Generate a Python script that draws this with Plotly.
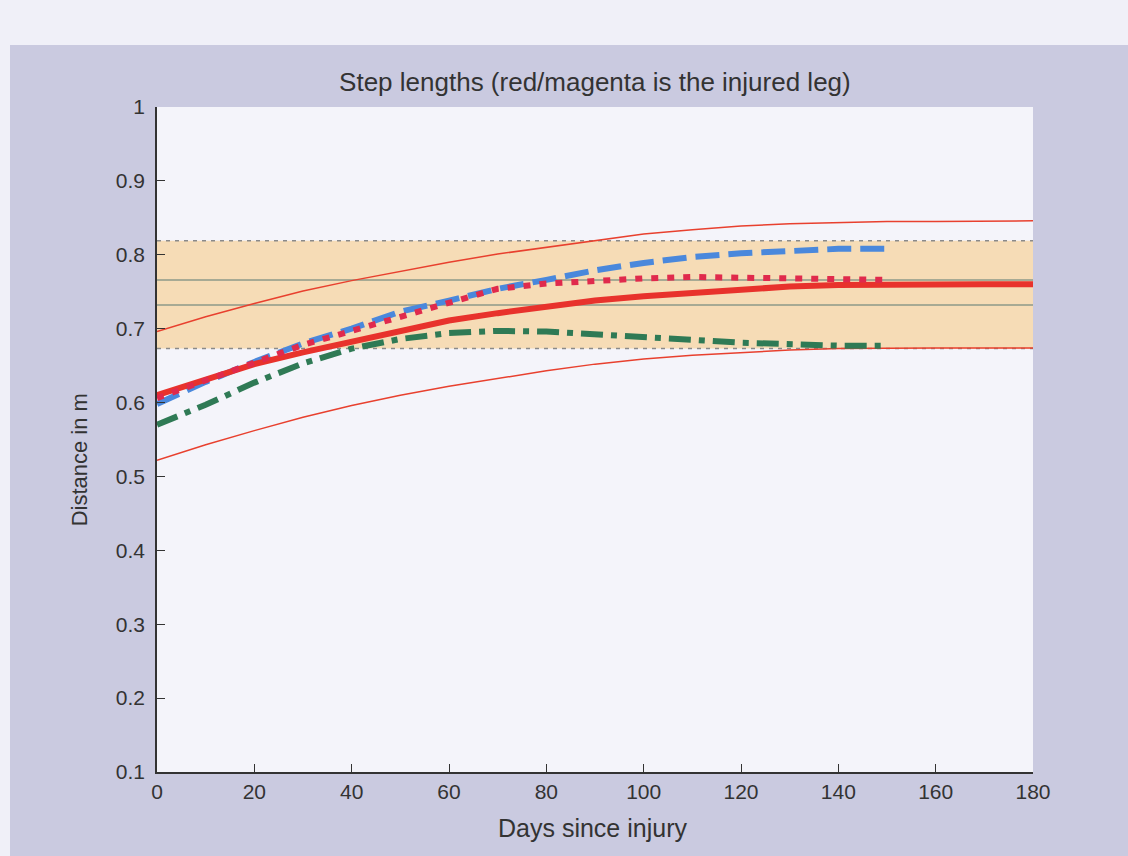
import plotly.graph_objects as go

# Days since injury at which the curves are sampled
days = [0, 10, 20, 30, 40, 50, 60, 70, 80, 90, 100, 110, 120, 130, 140, 150, 160, 170, 180]
days_obs = days[:16]  # measured curves stop at day 150

# Model prediction for the injured leg (mean and confidence limits)
injured_mean = [0.610, 0.631, 0.652, 0.668, 0.682, 0.698, 0.711, 0.721, 0.730, 0.738, 0.744,
                0.749, 0.754, 0.757, 0.759, 0.760, 0.760, 0.760, 0.760]
injured_upper = [0.696, 0.716, 0.734, 0.751, 0.765, 0.778, 0.790, 0.801, 0.810, 0.820, 0.828,
                 0.834, 0.839, 0.842, 0.844, 0.845, 0.845, 0.846, 0.846]
injured_lower = [0.522, 0.543, 0.562, 0.580, 0.596, 0.610, 0.622, 0.633, 0.643, 0.652, 0.659,
                 0.664, 0.668, 0.671, 0.673, 0.674, 0.674, 0.674, 0.674]

# Measured step lengths
injured_measured = [0.606, 0.630, 0.655, 0.678, 0.697, 0.716, 0.737, 0.754, 0.761, 0.765, 0.768,
                    0.770, 0.770, 0.768, 0.767, 0.766]
healthy_a = [0.598, 0.628, 0.655, 0.680, 0.700, 0.723, 0.738, 0.754, 0.766, 0.779, 0.789,
             0.797, 0.802, 0.806, 0.808, 0.808]
healthy_b = [0.570, 0.597, 0.627, 0.653, 0.673, 0.686, 0.694, 0.697, 0.696, 0.693, 0.689,
             0.685, 0.681, 0.678, 0.677, 0.677]

# Normal range band and reference levels
band_x = [0, 180]
band_low = [0.673, 0.673]
band_high = [0.819, 0.819]
ref_high = [0.766, 0.766]
ref_low = [0.732, 0.732]

x_ticks = list(range(0, 181, 20))
y_ticks = [0.1, 0.2, 0.3, 0.4, 0.5, 0.6, 0.7, 0.8, 0.9, 1.0]
y_tick_text = ["0.1", "0.2", "0.3", "0.4", "0.5", "0.6", "0.7", "0.8", "0.9", "1"]

FONT = "Liberation Sans, Arial, sans-serif"
INK = "#333333"

fig = go.Figure()

# shaded normal band with dashed edges
fig.add_trace(go.Scatter(x=band_x, y=band_low, mode="lines",
                         line=dict(color="#8a8a8a", width=1.5, dash="4px,5px"), hoverinfo="skip"))
fig.add_trace(go.Scatter(x=band_x, y=band_high, mode="lines", fill="tonexty",
                         fillcolor="#f6dcb6",
                         line=dict(color="#8a8a8a", width=1.5, dash="4px,5px"), hoverinfo="skip"))
for ref in (ref_high, ref_low):
    fig.add_trace(go.Scatter(x=band_x, y=ref, mode="lines",
                             line=dict(color="#8c9a88", width=1.5), hoverinfo="skip"))

# confidence limits
for lim in (injured_upper, injured_lower):
    fig.add_trace(go.Scatter(x=days, y=lim, mode="lines",
                             line=dict(color="#e8402e", width=1.5), hoverinfo="skip"))

# measured curves
fig.add_trace(go.Scatter(x=days_obs, y=healthy_b, mode="lines",
                         line=dict(color="#2f7a55", width=6, dash="22px,8px,6px,8px")))
fig.add_trace(go.Scatter(x=days_obs, y=healthy_a, mode="lines",
                         line=dict(color="#4a88dc", width=6, dash="24px,9px")))
fig.add_trace(go.Scatter(x=days, y=injured_mean, mode="lines",
                         line=dict(color="#e8322c", width=6)))
fig.add_trace(go.Scatter(x=days_obs, y=injured_measured, mode="lines",
                         line=dict(color="#e02a4c", width=6, dash="7px,9px")))

tick_font = dict(family=FONT, size=21, color=INK)

fig.update_layout(
    width=1128, height=856,
    margin=dict(l=157, r=95, t=107, b=84),
    paper_bgcolor="#cacae0",
    plot_bgcolor="#f4f4fa",
    showlegend=False,
    font=dict(family=FONT, color=INK),
    title=dict(text="Step lengths (red/magenta is the injured leg)",
               x=0.5274, xanchor="center", y=0.904, yanchor="middle",
               font=dict(family=FONT, size=26, color=INK)),
    xaxis=dict(range=[0, 180], tickvals=x_ticks, showgrid=False, zeroline=False,
               showline=True, linecolor=INK, linewidth=1.5, mirror=False,
               ticks="inside", ticklen=8, tickcolor=INK, tickfont=tick_font),
    yaxis=dict(range=[0.1, 1.0], tickvals=y_ticks, ticktext=y_tick_text, showgrid=False,
               zeroline=False, showline=True, linecolor=INK, linewidth=1.5, mirror=False,
               ticks="inside", ticklen=8, tickcolor=INK, tickfont=tick_font,
               ticklabelstandoff=6),
    annotations=[
        dict(text="Days since injury", xref="paper", yref="paper", x=0.497, y=-0.084,
             xanchor="center", yanchor="middle", showarrow=False,
             font=dict(family=FONT, size=25, color=INK)),
        dict(text="Distance in m", xref="paper", yref="paper", x=-0.088, y=0.47,
             xanchor="center", yanchor="middle", textangle=-90, showarrow=False,
             font=dict(family=FONT, size=22, color=INK)),
    ],
    shapes=[
        dict(type="rect", xref="paper", yref="paper", x0=-0.2, x1=1.2,
             y0=1.0932, y1=1.17, fillcolor="#f0f0f8", line_width=0, layer="below"),
        dict(type="rect", xref="paper", yref="paper", x0=-0.2, x1=-0.1678,
             y0=-0.15, y1=1.17, fillcolor="#f0f0f8", line_width=0, layer="below"),
    ],
)

fig.write_html("out.html")
